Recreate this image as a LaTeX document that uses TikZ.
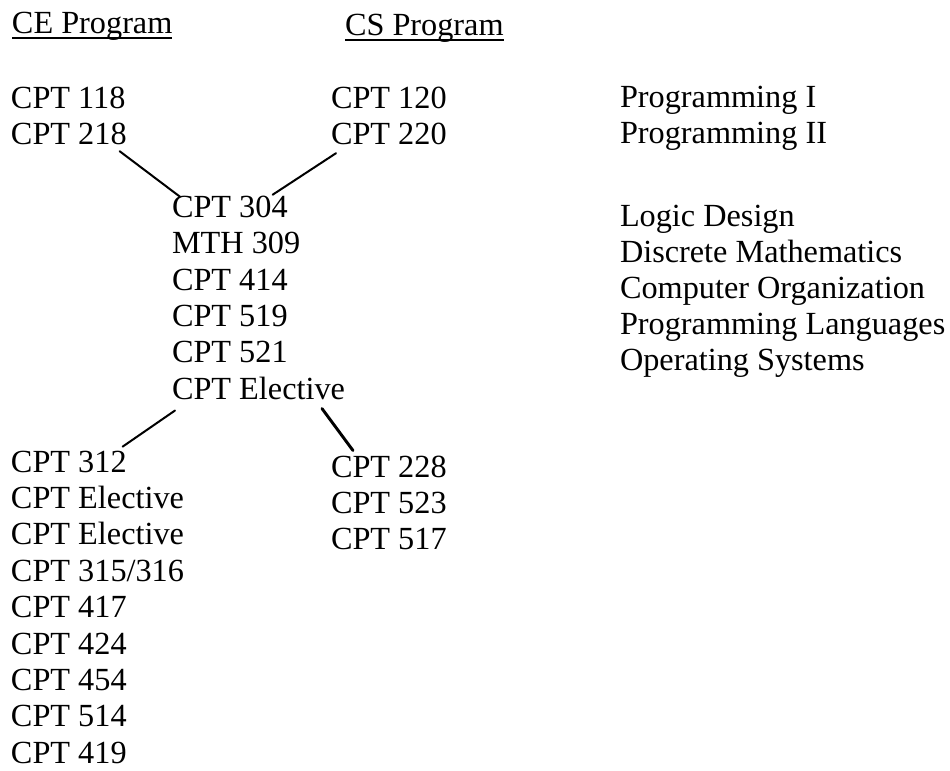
\documentclass[tikz,border=0pt]{standalone}
\usepackage{fontspec}
\setmainfont{Liberation Serif}
\begin{document}
\begin{tikzpicture}[x=0.75pt,y=-0.75pt,
  lbl/.style={anchor=base west,inner sep=0pt,outer sep=0pt,font=\fontsize{24.2}{29}\selectfont},
  conn/.style={line width=1.5pt,line cap=round},
  uline/.style={line width=1.1pt}]
\useasboundingbox (0,0) rectangle (950,771);
\fill[white] (0,0) rectangle (950,771);
% headings
\node[lbl] (ce) at (12,33) {CE Program};
\node[lbl] (cs) at (345,35) {CS Program};
\draw[uline] ([shift={(0,5)}]ce.base west) -- ([shift={(0,5)}]ce.base east);
\draw[uline] ([shift={(0,5)}]cs.base west) -- ([shift={(0,5)}]cs.base east);
% left column
\node[lbl] (n118) at (11,108) {CPT 118};
\node[lbl] (n218) at (11,144.4) {CPT 218};
\node[lbl] (n312) at (11,472) {CPT 312};
\node[lbl] (le1) at (11,508.4) {CPT Elective};
\node[lbl] (le2) at (11,544.8) {CPT Elective};
\node[lbl] (n315) at (11,581.2) {CPT 315/316};
\node[lbl] (n417) at (11,617.6) {CPT 417};
\node[lbl] (n424) at (11,654) {CPT 424};
\node[lbl] (n454) at (11,690.4) {CPT 454};
\node[lbl] (n514) at (11,726.8) {CPT 514};
\node[lbl] (n419) at (11,763.2) {CPT 419};
% center column
\node[lbl] (n304) at (172,217.2) {CPT 304};
\node[lbl] (m309) at (172,253.6) {MTH 309};
\node[lbl] (n414) at (172,290) {CPT 414};
\node[lbl] (n519) at (172,326.4) {CPT 519};
\node[lbl] (n521) at (172,362.8) {CPT 521};
\node[lbl] (nel) at (172,399.2) {CPT Elective};
% CS column
\node[lbl] (n120) at (331,108) {CPT 120};
\node[lbl] (n220) at (331,144.4) {CPT 220};
\node[lbl] (n228) at (331,477) {CPT 228};
\node[lbl] (n523) at (331,513.4) {CPT 523};
\node[lbl] (n517) at (331,549.8) {CPT 517};
% right column
\node[lbl] (p1) at (620,107.5) {Programming I};
\node[lbl] (p2) at (620,143) {Programming II};
\node[lbl] (ld) at (620,226) {Logic Design};
\node[lbl] (dm) at (620,262) {Discrete Mathematics};
\node[lbl] (co) at (620,298) {Computer Organization};
\node[lbl] (pl) at (620,334.5) {Programming Languages};
\node[lbl] (os) at (620,370.5) {Operating Systems};
% connectors
\draw[conn] ([shift={(-7,6.5)}]n218.south east) -- ([shift={(8,1)}]n304.north west);
\draw[conn] ([shift={(5,8.5)}]n220.south west) -- ([shift={(-15,-1)}]n304.north east);
\draw[conn] ([shift={(3,11)}]nel.south west) -- ([shift={(-4,-4)}]n312.north east);
\draw[conn,line width=2.2pt] ([shift={(-23,9)}]nel.south east) -- ([shift={(22,-5)}]n228.north west);
\end{tikzpicture}
\end{document}
